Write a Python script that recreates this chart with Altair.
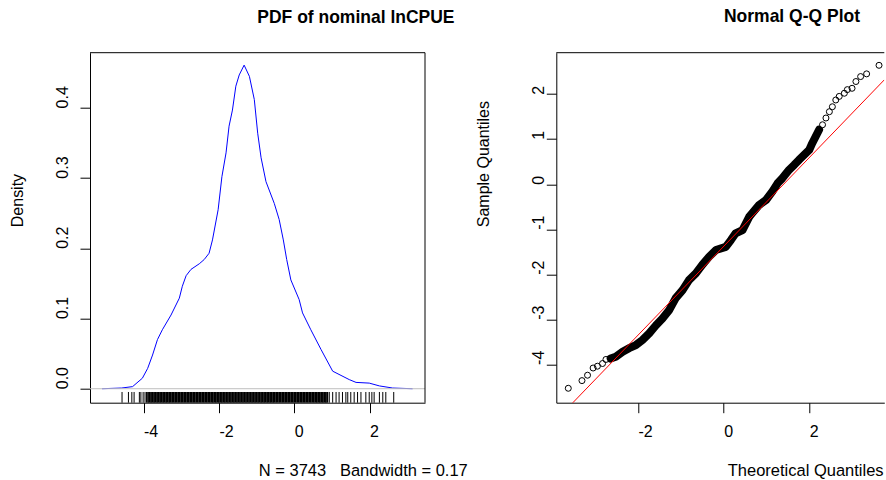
import altair as alt
import pandas as pd

FONT = "Liberation Sans"

# ---- Left panel: kernel density of nominal lnCPUE ----
dens_x = [-5.10, -4.58, -4.29, -4.03, -3.89, -3.76, -3.63, -3.50, -3.27, -3.05,
          -2.97, -2.87, -2.74, -2.52, -2.39, -2.26, -2.17, -2.02, -1.92, -1.81,
          -1.73, -1.64, -1.55, -1.46, -1.33, -1.19, -1.06, -0.97, -0.88, -0.75,
          -0.53, -0.40, -0.29, -0.20, -0.09, 0.13, 0.22, 0.44, 0.71, 1.02,
          1.46, 1.64, 1.99, 2.26, 2.61, 3.14]
dens_y = [0.000, 0.001, 0.003, 0.015, 0.029, 0.048, 0.070, 0.084, 0.105, 0.129,
          0.146, 0.161, 0.170, 0.178, 0.184, 0.193, 0.212, 0.255, 0.302, 0.336,
          0.374, 0.397, 0.431, 0.447, 0.461, 0.445, 0.412, 0.364, 0.329, 0.295,
          0.264, 0.241, 0.212, 0.184, 0.155, 0.127, 0.108, 0.084, 0.056, 0.025,
          0.013, 0.009, 0.008, 0.004, 0.001, 0.000]

# rug: isolated observations in the tails
rug_tail = [-4.57, -4.40, -4.31, -4.25, -4.11, -4.07, -4.01, -3.96, -3.92,
            0.93, 1.02, 1.11, 1.19, 1.28, 1.37, 1.42, 1.50, 1.59, 1.68, 1.77,
            1.90, 1.99, 2.06, 2.12, 2.26, 2.35, 2.43, 2.64]
# rug: the dense central block of observations
rug_dense = [-3.88, -3.84, -3.80, -3.76, -3.72, -3.68, -3.64, -3.60, -3.56, -3.52,
             -3.48, -3.44, -3.40, -3.36, -3.32, -3.28, -3.24, -3.20, -3.16, -3.12,
             -3.08, -3.04, -3.00, -2.96, -2.92, -2.88, -2.84, -2.80, -2.76, -2.72,
             -2.68, -2.64, -2.60, -2.56, -2.52, -2.48, -2.44, -2.40, -2.36, -2.32,
             -2.28, -2.24, -2.20, -2.16, -2.12, -2.08, -2.04, -2.00, -1.96, -1.92,
             -1.88, -1.84, -1.80, -1.76, -1.72, -1.68, -1.64, -1.60, -1.56, -1.52,
             -1.48, -1.44, -1.40, -1.36, -1.32, -1.28, -1.24, -1.20, -1.16, -1.12,
             -1.08, -1.04, -1.00, -0.96, -0.92, -0.88, -0.84, -0.80, -0.76, -0.72,
             -0.68, -0.64, -0.60, -0.56, -0.52, -0.48, -0.44, -0.40, -0.36, -0.32,
             -0.28, -0.24, -0.20, -0.16, -0.12, -0.08, -0.04, 0.00, 0.04, 0.08,
             0.12, 0.16, 0.20, 0.24, 0.28, 0.32, 0.36, 0.40, 0.44, 0.48, 0.52,
             0.56, 0.60, 0.64, 0.68, 0.72, 0.76, 0.80, 0.84, 0.88]

# ---- Right panel: normal Q-Q plot ----
qq_theo = [-3.63, -3.31, -3.18, -3.05, -2.95, -2.83, -2.75, -2.64,
           -2.52, -2.36, -2.21, -2.05, -1.90, -1.74, -1.58, -1.43, -1.27, -1.12,
           -0.96, -0.81, -0.65, -0.50, -0.34, -0.18, 0.05, 0.17, 0.28, 0.44,
           0.60, 0.67, 0.83, 0.99, 1.14, 1.26, 1.37, 1.53, 1.65, 1.76, 1.88,
           2.00, 2.07, 2.15, 2.23,
           2.31, 2.39, 2.47, 2.54, 2.62, 2.70, 2.82, 2.89, 3.00, 3.09, 3.20,
           3.34, 3.63]
qq_samp = [-4.53, -4.36, -4.24, -4.08, -4.04, -3.98, -3.89, -3.87,
           -3.83, -3.72, -3.64, -3.57, -3.46, -3.31, -3.13, -2.98, -2.79, -2.53,
           -2.35, -2.13, -1.98, -1.79, -1.61, -1.46, -1.39, -1.24, -1.09, -1.02,
           -0.72, -0.64, -0.46, -0.35, -0.16, 0.02, 0.13, 0.32, 0.43, 0.54, 0.65,
           0.76, 0.91, 1.06, 1.21,
           1.32, 1.47, 1.61, 1.72, 1.87, 1.95, 2.02, 2.10, 2.13, 2.28, 2.39,
           2.45, 2.64]
qq_dense = [False] * 7 + [True] * 36 + [False] * 13

qqline_intercept = -1.38
qqline_slope = 0.985

dens_df = pd.DataFrame({"x": dens_x, "d": dens_y})
rug_tail_df = pd.DataFrame({"x": rug_tail})
rug_dense_df = pd.DataFrame({"x": rug_dense})
zero_df = pd.DataFrame({"z": [0.0]})
qq_df = pd.DataFrame({"t": qq_theo, "s": qq_samp, "dense": qq_dense})
qqline_df = pd.DataFrame({"t": [-3.91, 3.753]})
frame_df = pd.DataFrame({"k": [0]})

BLACK = "#000000"

def x_axis(values, title, title_x):
    return alt.Axis(values=values, labelExpr="toString(datum.value)",
                    tickSize=10, tickColor=BLACK, tickWidth=1,
                    labelAlign="left", labelBaseline="alphabetic", labelPadding=24,
                    labelFont=FONT, labelFontSize=16, labelColor=BLACK,
                    labelFlush=False, labelOverlap=False, grid=False,
                    domain=True, domainColor=BLACK, domainWidth=1,
                    title=title, titleX=title_x, titleY=73.3,
                    titleAlign="left", titleBaseline="alphabetic",
                    titleFont=FONT, titleFontSize=16.5, titleFontWeight="normal",
                    titleColor=BLACK)

def y_axis(values, expr, title, pad):
    return alt.Axis(values=values, labelExpr=expr,
                    tickSize=10, tickColor=BLACK, tickWidth=1,
                    labelAngle=270, labelAlign="left", labelBaseline="alphabetic",
                    labelPadding=pad, labelFont=FONT, labelFontSize=16,
                    labelColor=BLACK, labelFlush=False, labelOverlap=False,
                    grid=False, domain=True, domainColor=BLACK, domainWidth=1,
                    title=title, titleAngle=270, titleAlign="left",
                    titleBaseline="alphabetic", titleX=-67.5, titleY=174,
                    titleFont=FONT, titleFontSize=16, titleFontWeight="normal",
                    titleColor=BLACK)

# Left panel
xL = alt.Scale(domain=[-5.42, 3.47], nice=False, zero=False)
yL = alt.Scale(domain=[-0.0199, 0.4787], nice=False, zero=False)

dens_line = alt.Chart(dens_df).mark_line(color="#0000FF", strokeWidth=1).encode(
    x=alt.X("x:Q", scale=xL,
            axis=x_axis([-4, -2, 0, 2], "N = 3743\u00a0\u00a0\u00a0Bandwidth = 0.17", 168.3)),
    y=alt.Y("d:Q", scale=yL,
            axis=y_axis([0, 0.1, 0.2, 0.3, 0.4], "format(datum.value, '.1f')", "Density", 13)),
    order="x:Q",
)
zero_rule = alt.Chart(zero_df).mark_rule(color="#BEBEBE", strokeWidth=1).encode(
    y=alt.Y("z:Q", scale=yL)
)
rug_t = alt.Chart(rug_tail_df).mark_rule(color=BLACK, strokeWidth=1).encode(
    x=alt.X("x:Q", scale=xL), y=alt.value(350), y2=alt.value(339.3)
)
rug_d = alt.Chart(rug_dense_df).mark_rule(color=BLACK, strokeWidth=1.7).encode(
    x=alt.X("x:Q", scale=xL), y=alt.value(350), y2=alt.value(339.3)
)
top_left = alt.Chart(frame_df).mark_rule(color=BLACK, strokeWidth=1).encode(y=alt.value(0))
right_left = alt.Chart(frame_df).mark_rule(color=BLACK, strokeWidth=1).encode(x=alt.value(335))

left = alt.layer(dens_line, zero_rule, rug_t, rug_d, top_left, right_left).properties(
    width=335, height=350,
    title=alt.TitleParams("PDF of nominal lnCPUE", anchor="start", dx=167.3, offset=12,
                          baseline="alphabetic", font=FONT, fontSize=17.5,
                          fontWeight="bold", color=BLACK, frame="group"),
)

# Right panel
xR = alt.Scale(domain=[-3.91, 3.753], nice=False, zero=False)
yR = alt.Scale(domain=[-4.85, 2.92], nice=False, zero=False)

band = alt.Chart(qq_df).transform_filter("datum.dense").mark_line(
    color=BLACK, strokeWidth=8, strokeCap="round", strokeJoin="round"
).encode(
    x=alt.X("t:Q", scale=xR,
            axis=x_axis([-2, 0, 2], "Theoretical Quantiles", 171)),
    y=alt.Y("s:Q", scale=yR,
            axis=y_axis([-4, -3, -2, -1, 0, 1, 2], "toString(datum.value)", "Sample Quantiles", 3)),
    order="t:Q",
)
pts = alt.Chart(qq_df).mark_point(shape="circle", filled=False, size=36, color=BLACK,
                                   strokeWidth=1, opacity=1).encode(
    x=alt.X("t:Q", scale=xR), y=alt.Y("s:Q", scale=yR)
)
qqline = alt.Chart(qqline_df).transform_calculate(
    s=f"{qqline_intercept} + {qqline_slope} * datum.t"
).mark_line(color="#FF0000", strokeWidth=1, clip=True).encode(
    x=alt.X("t:Q", scale=xR), y=alt.Y("s:Q", scale=yR)
)
top_right = alt.Chart(frame_df).mark_rule(color=BLACK, strokeWidth=1).encode(y=alt.value(0))

right = alt.layer(band, pts, qqline, top_right).properties(
    width=328, height=350,
    title=alt.TitleParams("Normal Q-Q Plot", anchor="start", dx=167.7, offset=13,
                          baseline="alphabetic", font=FONT, fontSize=17.5,
                          fontWeight="bold", color=BLACK, frame="group"),
)

chart = alt.hconcat(left, right, spacing=131.3, bounds="flush").properties(
    padding={"left": 9, "top": 7.7, "right": 0, "bottom": 0},
    background="white",
).configure_view(stroke=None)

chart.save("out.html", embed_options={"renderer": "svg", "actions": False})
